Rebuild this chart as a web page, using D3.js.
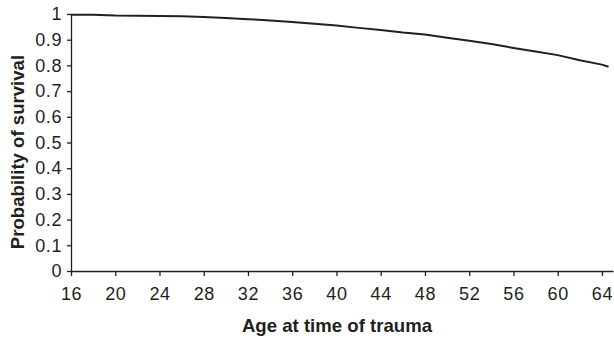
<!DOCTYPE html>
<html>
<head>
<meta charset="utf-8">
<script src="https://cdn.jsdelivr.net/npm/d3@7"></script>
<style>
  body { margin: 0; background: #fff; }
  svg { display: block; font-family: "Liberation Sans", Arial, sans-serif; }
  .tick text { font-size: 18px; letter-spacing: 0.6px; fill: #231f20; }
  .axis path, .axis line { stroke: #231f20; stroke-width: 1.3; }
  .aText { font-size: 18.6px; font-weight: bold; fill: #231f20; }
</style>
</head>
<body>
<div id="chart"></div>
<script>
var svgWidth = 614;
var svgHeight = 339;

var ages = [16, 18, 20, 22, 24, 26, 28, 30, 32, 34, 36, 38, 40, 42, 44, 46, 48, 50, 52, 54, 56, 58, 60, 62, 64, 64.6];
var survival = [0.997, 0.997, 0.994, 0.993, 0.992, 0.991, 0.988, 0.984, 0.980, 0.975, 0.969, 0.962, 0.955, 0.946, 0.938, 0.928, 0.920, 0.908, 0.896, 0.883, 0.868, 0.854, 0.840, 0.820, 0.803, 0.795];
var xTicks = [16, 20, 24, 28, 32, 36, 40, 44, 48, 52, 56, 60, 64];
var yTicks = [0, 0.1, 0.2, 0.3, 0.4, 0.5, 0.6, 0.7, 0.8, 0.9, 1];
var yTickLabels = ["0", "0.1", "0.2", "0.3", "0.4", "0.5", "0.6", "0.7", "0.8", "0.9", "1"];

var margin = { top: 14, right: 1, bottom: 68, left: 71 };
var width = svgWidth - margin.left - margin.right;
var height = svgHeight - margin.top - margin.bottom;

var svg = d3.select("#chart")
  .append("svg")
  .attr("width", svgWidth)
  .attr("height", svgHeight);

var chartGroup = svg.append("g")
  .attr("transform", `translate(${margin.left}, ${margin.top})`);

var xScale = d3.scaleLinear().domain([16, 65]).range([0, width]);
var yScale = d3.scaleLinear().domain([0, 1]).range([height, 0]);

var bottomAxis = d3.axisBottom(xScale)
  .tickValues(xTicks)
  .tickSize(5)
  .tickSizeOuter(0)
  .tickPadding(11);

var leftAxis = d3.axisLeft(yScale)
  .tickValues(yTicks)
  .tickFormat((d, i) => yTickLabels[i])
  .tickSize(4)
  .tickSizeOuter(0)
  .tickPadding(5);

chartGroup.append("g")
  .attr("class", "axis")
  .attr("transform", `translate(0, ${height})`)
  .call(bottomAxis);

chartGroup.append("g")
  .attr("class", "axis")
  .call(leftAxis);

// the curve
var line = d3.line()
  .x((d, i) => xScale(ages[i]))
  .y(d => yScale(d));

chartGroup.append("path")
  .datum(survival)
  .attr("d", line)
  .attr("fill", "none")
  .attr("stroke", "#231f20")
  .attr("stroke-width", 2);

// axis titles
svg.append("text")
  .attr("class", "aText")
  .attr("text-anchor", "middle")
  .attr("x", 337)
  .attr("y", 332)
  .text("Age at time of trauma");

svg.append("text")
  .attr("class", "aText")
  .attr("text-anchor", "middle")
  .attr("transform", "translate(24, 152) rotate(-90)")
  .text("Probability of survival");
</script>
</body>
</html>
